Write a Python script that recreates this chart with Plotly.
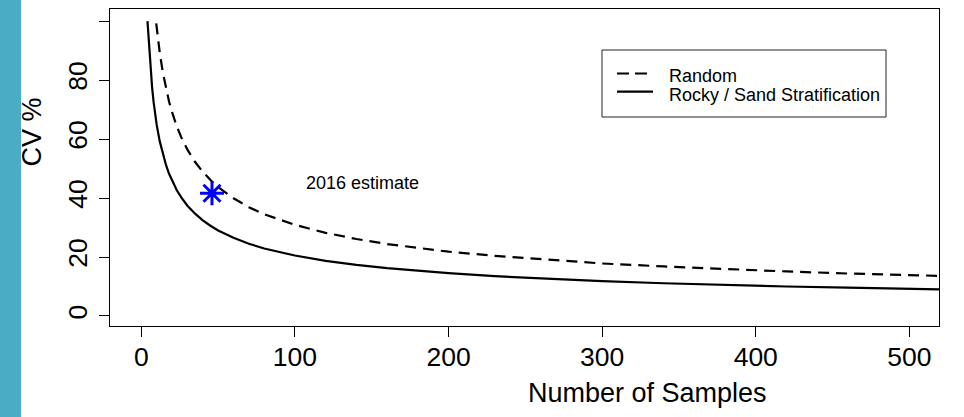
import plotly.graph_objects as go

# ---- data ----
strat_n = [4, 5, 6, 7, 8, 9, 10, 12, 14, 16, 18, 20, 23, 26, 30, 35, 40, 45, 50, 60, 70, 80, 90,
           100, 120, 140, 160, 180, 200, 230, 260, 300, 340, 380, 420, 460, 500, 520]
strat_cv = [100.0, 91.7, 83.7, 77.5, 72.5, 68.3, 64.8, 59.2, 54.8, 51.3, 48.3, 45.8, 42.7, 40.2,
            37.4, 34.7, 32.4, 30.6, 29.0, 26.5, 24.5, 22.9, 21.6, 20.5, 18.7, 17.3, 16.2, 15.3,
            14.5, 13.5, 12.7, 11.8, 11.1, 10.5, 10.0, 9.6, 9.2, 9.0]

random_n = [9.7, 11, 12, 14, 16, 18, 20, 23, 26, 30, 35, 40, 45, 50, 60, 70, 80, 90, 100, 120,
            140, 160, 180, 200, 230, 260, 300, 340, 380, 420, 460, 500, 520]
random_cv = [99.2, 93.2, 89.2, 82.6, 77.3, 72.8, 69.1, 64.4, 60.6, 56.4, 52.2, 48.9, 46.1, 43.7,
             39.9, 36.9, 34.5, 32.6, 30.9, 28.2, 26.1, 24.4, 23.0, 21.8, 20.4, 19.2, 17.8, 16.8,
             15.9, 15.1, 14.4, 13.8, 13.6]

estimate_n = [46]
estimate_cv = [41.6]

x_ticks = [0, 100, 200, 300, 400, 500]
y_ticks = [0, 20, 40, 60, 80, 100]
y_tick_labels = ["0", "20", "40", "60", "80", ""]

series_names = ["Random", "Rocky / Sand Stratification"]
estimate_label = "2016 estimate"
x_title = "Number of Samples"
y_title = "CV %"

FONT = "Liberation Sans, Arial, Helvetica, sans-serif"
DASH = "11px,7px"

fig = go.Figure()
fig.add_trace(go.Scatter(x=random_n, y=random_cv, mode="lines", name=series_names[0],
                         line=dict(color="black", width=2.2, dash=DASH), showlegend=False))
fig.add_trace(go.Scatter(x=strat_n, y=strat_cv, mode="lines", name=series_names[1],
                         line=dict(color="black", width=2.2), showlegend=False))
fig.add_trace(go.Scatter(x=estimate_n, y=estimate_cv, mode="markers", name=estimate_label,
                         marker=dict(symbol="asterisk-open", size=20, color="#0000FF",
                                     line=dict(color="#0000FF", width=3)),
                         showlegend=False))

L, R, T, B = 110, 25, 9, 91
W, H = 964, 417
pw, ph = W - L - R, H - T - B


def px_x(p):
    return (p - L) / pw


def px_y(p):
    return (H - B - p) / ph


shapes = [
    # left decorative strip
    dict(type="rect", xref="paper", yref="paper", x0=px_x(0), x1=px_x(21), y0=px_y(H), y1=px_y(0),
         fillcolor="#4BACC6", line=dict(width=0), layer="below"),
    # legend box
    dict(type="rect", xref="paper", yref="paper", x0=px_x(602), x1=px_x(886), y0=px_y(117), y1=px_y(50),
         line=dict(color="#222222", width=1), fillcolor="white"),
    dict(type="line", xref="paper", yref="paper", x0=px_x(617), x1=px_x(653), y0=px_y(73.5), y1=px_y(73.5),
         line=dict(color="black", width=2.2, dash="12px,6px")),
    dict(type="line", xref="paper", yref="paper", x0=px_x(617), x1=px_x(653), y0=px_y(91.7), y1=px_y(91.7),
         line=dict(color="black", width=2.2)),
]

annotations = [
    dict(text=series_names[0], xref="paper", yref="paper", x=px_x(667), y=px_y(76),
         xanchor="left", yanchor="middle", showarrow=False, font=dict(size=18, color="black", family=FONT)),
    dict(text=series_names[1], xref="paper", yref="paper", x=px_x(667), y=px_y(94.5),
         xanchor="left", yanchor="middle", showarrow=False, font=dict(size=18, color="black", family=FONT)),
    dict(text=estimate_label, xref="x", yref="y", x=106, y=45.2,
         xanchor="left", yanchor="middle", showarrow=False, font=dict(size=18, color="black", family=FONT)),
    dict(text=x_title, xref="paper", yref="paper", x=px_x(647.5), y=px_y(393),
         xanchor="center", yanchor="middle", showarrow=False, font=dict(size=27, color="black", family=FONT)),
    dict(text=y_title, xref="paper", yref="paper", x=px_x(31), y=px_y(132.5), textangle=-90,
         xanchor="center", yanchor="middle", showarrow=False, font=dict(size=27, color="black", family=FONT)),
]

fig.update_layout(
    width=W, height=H,
    margin=dict(l=L, r=R, t=T, b=B, pad=0),
    paper_bgcolor="white", plot_bgcolor="white",
    font=dict(family=FONT, color="black"),
    shapes=shapes, annotations=annotations,
    showlegend=False,
    xaxis=dict(range=[-20.4, 519.3], tickmode="array", tickvals=x_ticks,
               ticks="outside", ticklen=10, tickwidth=1, tickcolor="black",
               showline=True, mirror=True, linecolor="black", linewidth=1,
               showgrid=False, zeroline=False, ticklabelstandoff=-3,
               tickfont=dict(size=26.5, family=FONT, color="black")),
    yaxis=dict(range=[-3.4, 104.1], tickmode="array", tickvals=y_ticks, ticktext=y_tick_labels,
               ticks="outside", ticklen=10, tickwidth=1, tickcolor="black", tickangle=-90,
               showline=True, mirror=True, linecolor="black", linewidth=1,
               showgrid=False, zeroline=False, ticklabelstandoff=1,
               tickfont=dict(size=26.5, family=FONT, color="black")),
)

fig.write_html("out.html", config={"displayModeBar": False},
               post_script="document.body.style.margin='0px';")
